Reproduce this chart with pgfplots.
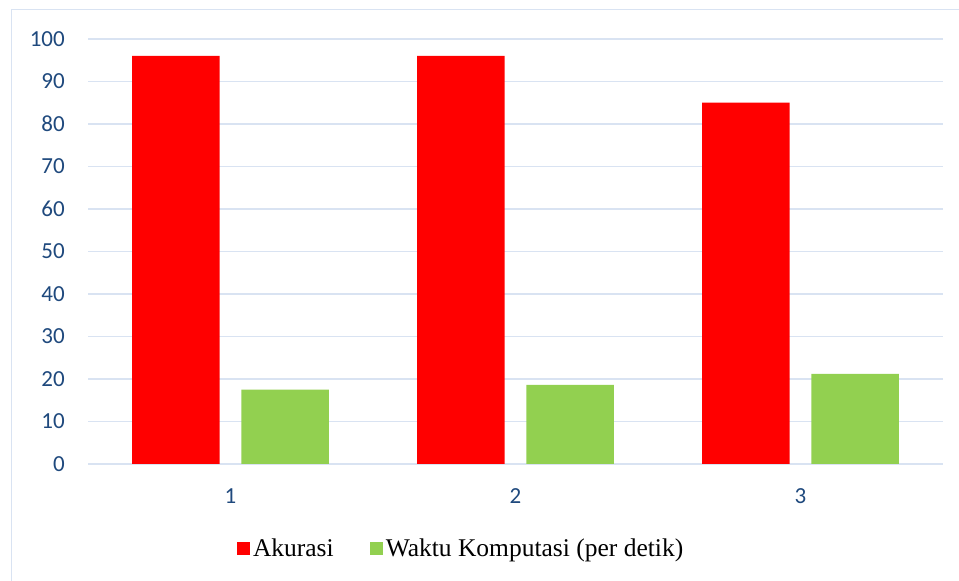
\documentclass[border=0pt]{standalone}
\usepackage{fontspec}
\setmainfont{Liberation Serif}
\newfontfamily\tickfont{Carlito}
\usepackage{pgfplots}
\pgfplotsset{compat=1.18}
\definecolor{gridblue}{RGB}{217,227,242}
\definecolor{tickblue}{RGB}{31,73,125}
\definecolor{barred}{RGB}{255,0,0}
\definecolor{bargreen}{RGB}{146,208,80}
\begin{document}
\begin{tikzpicture}
\path[use as bounding box] (0,0) rectangle (959bp,581bp);
\draw[gridblue, line width=1.5bp] (11.5bp,0) -- (11.5bp,571.5bp) -- (959bp,571.5bp);
\begin{axis}[
  at={(88bp,117bp)}, anchor=south west,
  scale only axis, width=855bp, height=425bp,
  ybar=21.7bp, bar width=87.5bp,
  xmin=0.5, xmax=3.5, ymin=0, ymax=100,
  xtick={1,2,3}, xticklabels={1,2,3},
  ytick={0,10,...,100},
  major tick length=0pt,
  axis line style={draw=none},
  ymajorgrids, grid style={gridblue, line width=1.5bp},
  /pgf/number format/assume math mode=true,
  ticklabel style={font=\tickfont\fontsize{23bp}{27bp}\selectfont, text=tickblue},
  yticklabel style={inner sep=0pt, xshift=-23bp},
  xticklabel style={inner sep=0pt, yshift=-24bp},
  legend columns=2,
  legend style={at={(0.437,-0.198)}, anchor=center, draw=none, fill=none,
    font=\fontsize{25.5bp}{30bp}\selectfont,
    /tikz/every even column/.append style={column sep=33bp},
    nodes={inner sep=3bp}},
  legend image code/.code={\fill[#1] (0bp,-6.5bp) rectangle (13bp,6.5bp);},
]
\addplot[fill=barred, draw=none] coordinates {(1,96) (2,96) (3,85)};
\addlegendentry{Akurasi}
\addplot[fill=bargreen, draw=none] coordinates {(1,17.5) (2,18.6) (3,21.2)};
\addlegendentry{Waktu Komputasi (per detik)}
\end{axis}
\end{tikzpicture}
\end{document}
